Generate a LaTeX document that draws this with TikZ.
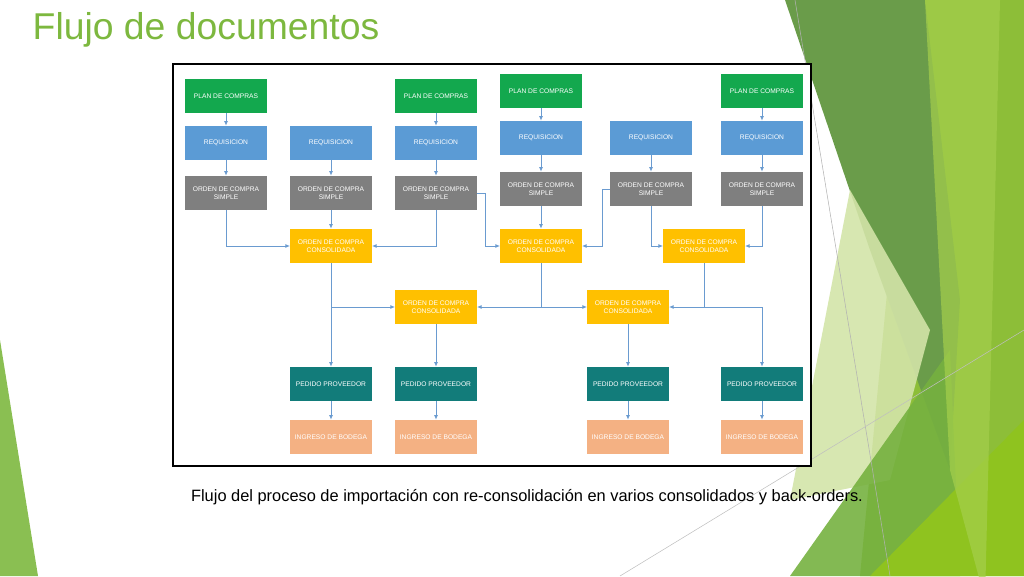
\documentclass[tikz,border=0pt]{standalone}
\usepackage{fontspec}
\setmainfont{Liberation Sans}
\usetikzlibrary{arrows.meta}
\definecolor{cplan}{HTML}{13A84E}
\definecolor{creq}{HTML}{5B9BD5}
\definecolor{cocs}{HTML}{7F7F7F}
\definecolor{cocc}{HTML}{FFC000}
\definecolor{cped}{HTML}{127C7A}
\definecolor{cing}{HTML}{F4B183}
\definecolor{carrow}{HTML}{6A9BD0}
\definecolor{ctitle}{HTML}{7DB83F}
\definecolor{gdark}{HTML}{6A9C4A}
\definecolor{glight}{HTML}{8DBE38}
\definecolor{gbright}{HTML}{8FC31F}
\definecolor{gpale}{HTML}{D3E4A8}
\definecolor{gmid}{HTML}{76B140}
\begin{document}
\begin{tikzpicture}[x=0.75pt,y=-0.75pt,
  box/.style={minimum width=61pt,minimum height=25.5pt,inner sep=1pt,text=white,align=center,font=\fontsize{5}{6}\selectfont},
  plan/.style={box,fill=cplan},
  req/.style={box,fill=creq},
  ocs/.style={box,fill=cocs},
  occ/.style={box,fill=cocc},
  ped/.style={box,fill=cped},
  ing/.style={box,fill=cing},
  link/.style={draw=carrow,line width=0.7pt,-{Latex[length=3.5pt,width=3pt]}}]
\useasboundingbox (0,0) rectangle (1024,576);
% background shapes
\fill[glight] (915,0) -- (1024,0) -- (1024,576) -- (860,576) -- cycle;
\fill[gdark] (785,0) -- (925,0) -- (960,300) -- (950,470) -- (870,250) -- cycle;
\fill[gpale,opacity=0.9] (850,190) -- (930,330) -- (890,480) -- (790,500) -- cycle;
\fill[gmid,opacity=0.9] (790,576) -- (950,350) -- (960,576) -- cycle;
\fill[gbright] (870,576) -- (1024,420) -- (1024,576) -- cycle;
\fill[gbright!80!white,opacity=0.7] (925,0) -- (1000,0) -- (985,600) -- (950,470) -- cycle;
\draw[gray!60,line width=0.4pt] (795,0) -- (890,576);
\draw[gray!50,line width=0.4pt] (620,576) -- (1024,330);
\fill[ctitle!90!white] (0,340) -- (38,576) -- (0,576) -- cycle;
% title and caption
\node[anchor=west,text=ctitle,font=\fontsize{28}{32}\selectfont] (title) at (28,30) {Flujo de documentos};
\node[font=\fontsize{12.3}{14}\selectfont] (cap) at (527,497) {Flujo del proceso de importación con re-consolidación en varios consolidados y back-orders.};
% frame
\draw[fill=white,line width=1.6pt] (173,64) rectangle (811,466);
% nodes
\node[plan] (pA) at (226,96) {PLAN DE COMPRAS};
\node[plan] (pC) at (436,96) {PLAN DE COMPRAS};
\node[plan] (pD) at (541,91) {PLAN DE COMPRAS};
\node[plan] (pF) at (762,91) {PLAN DE COMPRAS};
\node[req] (rA) at (226,143) {REQUISICION};
\node[req] (rB) at (331,143) {REQUISICION};
\node[req] (rC) at (436,143) {REQUISICION};
\node[req] (rD) at (541,138) {REQUISICION};
\node[req] (rE) at (651,138) {REQUISICION};
\node[req] (rF) at (762,138) {REQUISICION};
\node[ocs] (oA) at (226,193) {ORDEN DE COMPRA\\SIMPLE};
\node[ocs] (oB) at (331,193) {ORDEN DE COMPRA\\SIMPLE};
\node[ocs] (oC) at (436,193) {ORDEN DE COMPRA\\SIMPLE};
\node[ocs] (oD) at (541,189) {ORDEN DE COMPRA\\SIMPLE};
\node[ocs] (oE) at (651,189) {ORDEN DE COMPRA\\SIMPLE};
\node[ocs] (oF) at (762,189) {ORDEN DE COMPRA\\SIMPLE};
\node[occ] (cB) at (331,246) {ORDEN DE COMPRA\\CONSOLIDADA};
\node[occ] (cD) at (541,246) {ORDEN DE COMPRA\\CONSOLIDADA};
\node[occ] (cG) at (704,246) {ORDEN DE COMPRA\\CONSOLIDADA};
\node[occ] (m1) at (436,307) {ORDEN DE COMPRA\\CONSOLIDADA};
\node[occ] (m2) at (628,307) {ORDEN DE COMPRA\\CONSOLIDADA};
\node[ped] (dB) at (331,384) {PEDIDO PROVEEDOR};
\node[ped] (dC) at (436,384) {PEDIDO PROVEEDOR};
\node[ped] (dE) at (628,384) {PEDIDO PROVEEDOR};
\node[ped] (dF) at (762,384) {PEDIDO PROVEEDOR};
\node[ing] (iB) at (331,437) {INGRESO DE BODEGA};
\node[ing] (iC) at (436,437) {INGRESO DE BODEGA};
\node[ing] (iE) at (628,437) {INGRESO DE BODEGA};
\node[ing] (iF) at (762,437) {INGRESO DE BODEGA};
% connectors
\draw[link] (pA) -- (rA); \draw[link] (pC) -- (rC);
\draw[link] (pD) -- (rD); \draw[link] (pF) -- (rF);
\foreach \c in {A,B,C,D,E,F} {\draw[link] (r\c) -- (o\c);}
\draw[link] (oA.south) |- (cB.west);
\draw[link] (oB) -- (cB);
\draw[link] (oC.south) |- (cB.east);
\draw[link] (oC.east) -- ++(9,0) |- (cD.west);
\draw[link] (oD) -- (cD);
\draw[link] (oE.west) -- ++(-8,0) |- (cD.east);
\draw[link] (oE.south) |- (cG.west);
\draw[link] (oF.south) |- (cG.east);
\draw[link] (cB) -- (dB);
\draw[link] (cB.south) |- (m1.west);
\draw[link] (cD.south) |- (m1.east);
\draw[link] (cD.south) |- (m2.west);
\draw[link] (cG.south) |- (m2.east);
\draw[link] (cG.south) -- (cG.south |- m2) -| (dF.north);
\draw[link] (m1) -- (dC);
\draw[link] (m2) -- (dE);
\foreach \c in {B,C,E,F} {\draw[link] (d\c) -- (i\c);}
\end{tikzpicture}
\end{document}
